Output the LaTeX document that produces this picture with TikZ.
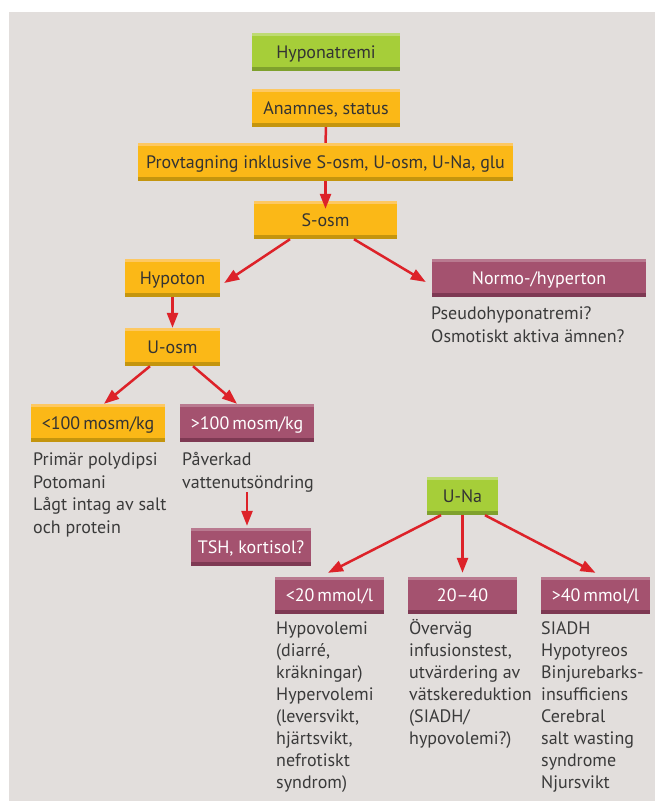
\documentclass[tikz,border=0pt]{standalone}
\usepackage{fontspec}
\setmainfont{PT Sans}
\usetikzlibrary{arrows.meta}
\definecolor{bg}{HTML}{E2DEDC}
\definecolor{orangemid}{HTML}{FBB817}
\definecolor{orangetop}{HTML}{FDC862}
\definecolor{orangebot}{HTML}{C4950E}
\definecolor{greenmid}{HTML}{A6CE39}
\definecolor{greentop}{HTML}{BEDB73}
\definecolor{greenbot}{HTML}{7FA12D}
\definecolor{purplemid}{HTML}{A4526F}
\definecolor{purpletop}{HTML}{B97A90}
\definecolor{purplebot}{HTML}{7E3953}
\definecolor{darktext}{HTML}{333333}
\definecolor{notetext}{HTML}{3A3A3A}
\definecolor{arrowred}{HTML}{DD2229}
\begin{document}
\begin{tikzpicture}[x=1pt,y=-1pt,
	box/.style={inner sep=0pt,minimum height=38pt,text height=13pt,text depth=1pt,font=\fontsize{18}{22}\selectfont},
	strips/.style n args={2}{path picture={
		\fill[#1] (path picture bounding box.north west) rectangle ([yshift=-3pt]path picture bounding box.north east);
		\fill[#2] (path picture bounding box.south west) rectangle ([yshift=4pt]path picture bounding box.south east);}},
	orangebox/.style={box,fill=orangemid,text=darktext,strips={orangetop}{orangebot}},
	greenbox/.style={box,fill=greenmid,text=darktext,strips={greentop}{greenbot}},
	purplebox/.style={box,fill=purplemid,text=white,strips={purpletop}{purplebot}},
	note/.style={anchor=base west,inner sep=0pt,align=left,text=notetext,font=\fontsize{18}{22.5}\selectfont},
	arr/.style={draw=arrowred,line width=2.5pt,-{Triangle[length=15pt,width=11pt]}}]
	\useasboundingbox (0,0) rectangle (655,801);
	\fill[bg] (9,12) rectangle (655,801);
	% boxes
	\node[greenbox,minimum width=148pt] (hypo) at (326,52) {Hyponatremi};
	\node[orangebox,minimum width=148pt] (anam) at (326,108) {Anamnes, status};
	\node[orangebox,minimum width=375pt] (prov) at (325.5,162) {Provtagning inklusive S-osm, U-osm, U-Na, glu};
	\node[orangebox,minimum width=143pt] (sosm) at (325.5,220) {S-osm};
	\node[orangebox,minimum width=95pt] (hypoton) at (172.5,278) {Hypoton};
	\node[purplebox,minimum width=214pt] (normo) at (539,278) {Normo-/hyperton};
	\node[orangebox,minimum width=95pt] (uosm) at (172.5,347) {U-osm};
	\node[orangebox,minimum width=134pt] (lt100) at (98,423) {<100\,mosm/kg};
	\node[purplebox,minimum width=134pt] (gt100) at (247,423) {>100\,mosm/kg};
	\node[purplebox,minimum width=120pt] (tsh) at (251,547) {TSH, kortisol?};
	\node[greenbox,minimum width=71pt] (una) at (462.5,496) {U-Na};
	\node[purplebox,minimum width=109pt,minimum height=37pt] (lt20) at (329.5,595.5) {<20\,mmol/l};
	\node[purplebox,minimum width=109pt,minimum height=37pt] (mid) at (462.5,595.5) {20–40};
	\node[purplebox,minimum width=109pt,minimum height=37pt] (gt40) at (595.5,595.5) {>40\,mmol/l};
	% notes (anchored at the baseline of their last line)
	\node[note] (pseudotxt) at (431,342) {Pseudohyponatremi?\\Osmotiskt aktiva ämnen?};
	\node[note] (lttxt) at (33,533) {Primär polydipsi\\Potomani\\Lågt intag av salt\\och protein};
	\node[note] (gttxt) at (182,488) {Påverkad\\vattenutsöndring};
	\node[note,font=\fontsize{18}{22}\selectfont] (lt20txt) at (276,788.5) {Hypovolemi\\(diarré,\\kräkningar)\\Hypervolemi\\(leversvikt,\\hjärtsvikt,\\nefrotiskt\\syndrom)};
	\node[note,font=\fontsize{18}{22}\selectfont] (midtxt) at (409,744.5) {Överväg\\infusionstest,\\utvärdering av\\vätskereduktion\\(SIADH/\\hypovolemi?)};
	\node[note,font=\fontsize{18}{22}\selectfont] (gt40txt) at (541,788.5) {SIADH\\Hypotyreos\\Binjurebarks-\\insufficiens\\Cerebral\\salt wasting\\syndrome\\Njursvikt};
	% arrows
	\draw[arrowred,line width=2.5pt] (anam) -- (prov);
	\draw[arr] (prov) -- ([yshift=-8pt]sosm.north);
	\draw[arr] ([xshift=-35.5pt]sosm.south) -- ([xshift=4pt,yshift=-5pt]hypoton.east);
	\draw[arr] ([xshift=28.5pt]sosm.south) -- ([xshift=-6pt,yshift=-4pt]normo.west);
	\draw[arr] (hypoton.south) -- (uosm.north);
	\draw[arr] ([xshift=-22.5pt]uosm.south) -- ([xshift=6pt]lt100.north);
	\draw[arr] ([xshift=20.5pt]uosm.south) -- ([xshift=-10pt]gt100.north);
	\draw[arr] ([xshift=-4pt]tsh.north |- gttxt.south) -- ([xshift=-4pt,yshift=2pt]tsh.north);
	\draw[arr] ([xshift=-21.5pt]una.south) -- ([xshift=-1.5pt,yshift=4pt]lt20.north);
	\draw[arr] (una.south) -- ([yshift=4pt]mid.north);
	\draw[arr] ([xshift=22.5pt]una.south) -- ([yshift=4pt]gt40.north);
\end{tikzpicture}
\end{document}
